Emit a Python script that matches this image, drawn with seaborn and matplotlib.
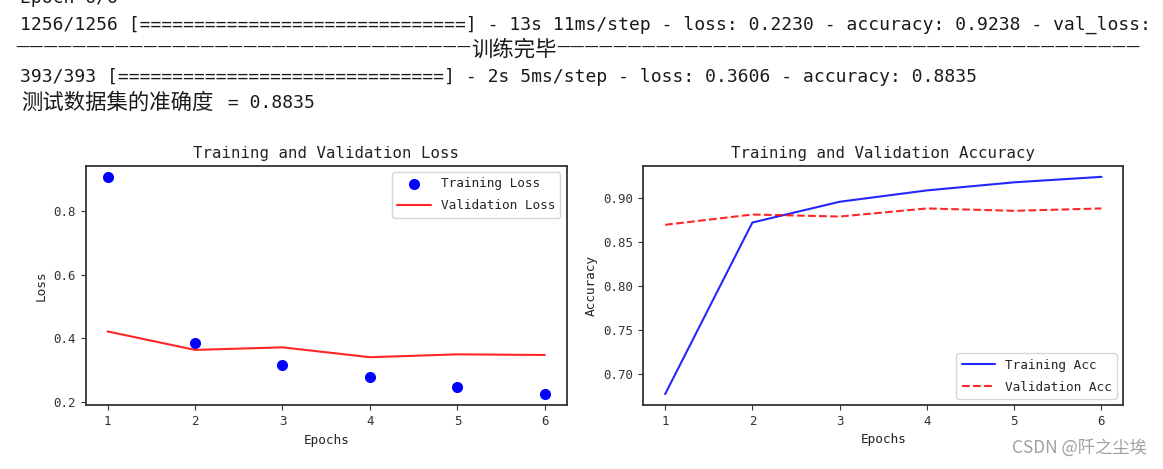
import matplotlib
matplotlib.use("Agg")
import matplotlib.pyplot as plt
from matplotlib.ticker import MultipleLocator
import seaborn as sns

# ---------------- data ----------------
epochs = [1, 2, 3, 4, 5, 6]
train_loss = [0.907, 0.386, 0.316, 0.277, 0.247, 0.223]
val_loss = [0.421, 0.363, 0.371, 0.340, 0.349, 0.347]
train_acc = [0.6775, 0.8726, 0.8962, 0.9091, 0.9183, 0.9245]
val_acc = [0.870, 0.8817, 0.8794, 0.8886, 0.8859, 0.8886]
loss_tick_step = 0.2

log_lines = [
    "Epoch 6/6",
    "1256/1256 [==============================] - 13s 11ms/step - loss: 0.2230 - accuracy: 0.9238 - val_loss:",
    "393/393 [==============================] - 2s 5ms/step - loss: 0.3606 - accuracy: 0.8835",
]
sep_title = "训练完毕"
test_label = "测试数据集的准确度"
test_value = " = 0.8835"
watermark = "CSDN @阡之尘埃"

loss_title = "Training and Validation Loss"
acc_title = "Training and Validation Accuracy"

# ---------------- style ----------------
sns.set_style("ticks")
plt.rcParams["font.family"] = ["DejaVu Sans Mono", "Noto Sans CJK SC"]
plt.rcParams["legend.frameon"] = True
plt.rcParams["legend.framealpha"] = 0.8
plt.rcParams["legend.edgecolor"] = "0.8"
plt.rcParams["legend.fancybox"] = True

W, H = 1163, 469
fig = plt.figure(figsize=(W / 100, H / 100), dpi=100)
fig.patch.set_facecolor("white")


def px(x, y):
    return x / W, 1 - y / H


TXT = "#1a1a1a"
MONO = ["DejaVu Sans Mono"]
CJK = ["Noto Sans CJK SC"]
FS_LOG = 13.0

# console log text
x0, y0 = px(20.5, 3)
fig.text(x0, y0, log_lines[0], family=MONO, fontsize=FS_LOG, color=TXT, va="baseline")
x0, y0 = px(20.5, 29.3)
fig.text(x0, y0, log_lines[1], family=MONO, fontsize=FS_LOG, color=TXT, va="baseline")
# separator line
xl, yl = px(471, 52)
fig.text(xl, yl, "—" * 32, family=["DejaVu Sans"], fontsize=10.2, color=TXT,
         va="baseline", ha="right")
xc, yc = px(471, 56)
fig.text(xc, yc, sep_title, family=CJK, fontsize=15.4, color=TXT, va="baseline")
xr, yr = px(556, 52)
fig.text(xr, yr, "—" * 41, family=["DejaVu Sans"], fontsize=10.2, color=TXT,
         va="baseline", ha="left")
x0, y0 = px(20.5, 82.3)
fig.text(x0, y0, log_lines[2], family=MONO, fontsize=FS_LOG, color=TXT, va="baseline")
x0, y0 = px(21, 108.5)
fig.text(x0, y0, test_label, family=CJK, fontsize=15.4, color=TXT, va="baseline")
x0, y0 = px(216.7, 108.5)
fig.text(x0, y0, test_value, family=MONO, fontsize=FS_LOG, color=TXT, va="baseline")

# watermark
xw, yw = px(1147, 448)
fig.text(xw, yw, watermark, family=CJK, fontsize=12.4, color="#a0a0a0",
         ha="right", va="center")

# ---------------- axes ----------------
ax1 = fig.add_axes([85.7 / W, 1 - 405.3 / H, (566.7 - 85.7) / W, (405.3 - 166) / H])
ax2 = fig.add_axes([643.3 / W, 1 - 405.0 / H, (1123.3 - 643.3) / W, (405.0 - 166) / H])

sns.scatterplot(x=epochs, y=train_loss, ax=ax1, color="#0000ff", s=64,
                linewidth=0, label="Training Loss", zorder=3)
sns.lineplot(x=epochs, y=val_loss, ax=ax1, color="#ff0000", alpha=0.85,
             linewidth=1.5, label="Validation Loss")
ax1.set_title(loss_title, fontsize=11.3, color="#222222")
ax1.set_xlabel("Epochs", fontsize=9.2, color="#222222")
ax1.set_ylabel("Loss", fontsize=9.2, color="#222222")
ax1.yaxis.set_major_locator(MultipleLocator(loss_tick_step))
ax1.legend(loc="upper right", fontsize=9.2, handlelength=2.6, handletextpad=0.8,
           labelspacing=0.7)

sns.lineplot(x=epochs, y=train_acc, ax=ax2, color="#0000ff", alpha=0.85,
             linewidth=1.5, label="Training Acc")
sns.lineplot(x=epochs, y=val_acc, ax=ax2, color="#ff0000", alpha=0.85,
             linewidth=1.5, linestyle="--", label="Validation Acc")
ax2.set_title(acc_title, fontsize=11.3, color="#222222")
ax2.set_xlabel("Epochs", fontsize=9.2, color="#222222")
ax2.set_ylabel("Accuracy", fontsize=9.2, color="#222222")
ax2.legend(loc="lower right", fontsize=9.2, handlelength=2.6, handletextpad=0.8,
           labelspacing=0.7)

for ax in (ax1, ax2):
    ax.margins(x=0.05, y=0.05)
    ax.set_xticks(epochs)
    ax.tick_params(labelsize=9, colors="#333333")
    for s in ax.spines.values():
        s.set_visible(True)
        s.set_color("#333333")
        s.set_linewidth(1.3)

fig.savefig("out.png", dpi=100, facecolor="white")
